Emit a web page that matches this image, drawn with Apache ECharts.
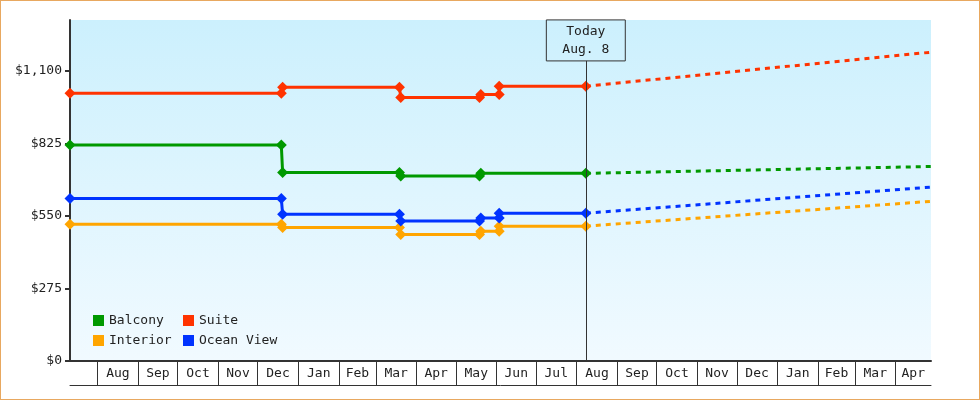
<!DOCTYPE html>
<html>
<head>
    <meta charset="UTF-8" />
    <title>cabin price history</title>
    <script type="text/javascript" src="https://cdn.jsdelivr.net/npm/echarts@6.0.0/dist/echarts.min.js"></script>
    <style>
        body { margin: 0; }
        #wrap { width: 980px; height: 400px; box-sizing: border-box; border: 1px solid #e8a860; background: #fff; }
        #main { width: 978px; height: 398px; }
    </style>
</head>
<body>

<div id="wrap"><div id="main"></div></div>

<script>
    // axis range
    var startDate = '2021-07-11';
    var endDate = '2023-04-28';
    var todayDate = '2022-08-08';

    // price history, one point before and after every change
    var historyDates = ['2021-07-11', '2021-12-19', '2021-12-20', '2022-03-19', '2022-03-20',
        '2022-05-19', '2022-05-20', '2022-06-03', '2022-06-03', '2022-08-08'];
    var suiteHist = [1014, 1014, 1037, 1037, 998, 998, 1010, 1010, 1041, 1041];
    var balconyHist = [818, 818, 714, 714, 701, 701, 711, null, null, 711];
    var oceanHist = [616, 616, 556, 556, 530, 530, 542, 542, 560, 560];
    var interiorHist = [518, 518, 506, 506, 479, 479, 492, 492, 511, 511];

    // forecast from today to end of range
    var forecastDates = ['2022-08-08', '2023-04-28'];
    var suiteFc = [1041, 1170];
    var balconyFc = [711, 737];
    var oceanFc = [560, 659];
    var interiorFc = [511, 605];

    // month bands under the plot
    var monthStarts = ['2021-08-01', '2021-09-01', '2021-10-01', '2021-11-01', '2021-12-01',
        '2022-01-01', '2022-02-01', '2022-03-01', '2022-04-01', '2022-05-01', '2022-06-01',
        '2022-07-01', '2022-08-01', '2022-09-01', '2022-10-01', '2022-11-01', '2022-12-01',
        '2023-01-01', '2023-02-01', '2023-03-01', '2023-04-01'];
    var monthLabels = ['Aug', 'Sep', 'Oct', 'Nov', 'Dec', 'Jan', 'Feb', 'Mar', 'Apr', 'May', 'Jun',
        'Jul', 'Aug', 'Sep', 'Oct', 'Nov', 'Dec', 'Jan', 'Feb', 'Mar', 'Apr'];

    var yTicks = [0, 275, 550, 825, 1100];
    var yMax = 1292;
    var todayBoxBottom = 1137;

    var font = 'DejaVu Sans Mono';

    function day(s) {
        var p = s.split('-');
        return new Date(+p[0], +p[1] - 1, +p[2]).getTime();
    }

    function pairs(dates, values) {
        return dates.map(function (d, i) {
            return [day(d), values[i]];
        });
    }

    var tickValues = monthStarts.map(day);
    var labelValues = tickValues.map(function (t, i) {
        var next = i + 1 < tickValues.length ? tickValues[i + 1] : day(endDate);
        return (t + next) / 2;
    });

    function money(v) {
        return '$' + String(v).replace(/\B(?=(\d{3})+(?!\d))/g, ',');
    }

    function histSeries(name, color, values) {
        return {
            name: name,
            type: 'line',
            data: pairs(historyDates, values),
            connectNulls: true,
            symbol: 'diamond',
            symbolSize: 11,
            showAllSymbol: true,
            itemStyle: { color: color },
            lineStyle: { color: color, width: 3 },
            z: 3
        };
    }

    function fcSeries(name, color, values) {
        return {
            name: name,
            type: 'line',
            data: pairs(forecastDates, values),
            symbol: 'none',
            itemStyle: { color: color },
            lineStyle: { color: color, width: 3, type: [5, 5] },
            z: 3
        };
    }

    var mychart = echarts.init(document.getElementById('main'));

    var option = {
        animation: false,
        grid: {
            left: 69,
            right: 48,
            top: 19,
            bottom: 38,
            show: true,
            borderWidth: 0,
            backgroundColor: new echarts.graphic.LinearGradient(0, 0, 0, 1, [
                { offset: 0, color: '#ccf0fd' },
                { offset: 1, color: '#f1faff' }
            ])
        },
        legend: [{
            orient: 'vertical',
            left: 87,
            top: 308,
            itemWidth: 11,
            itemHeight: 11,
            itemGap: 7,
            icon: 'rect',
            data: ['Balcony', 'Interior'],
            textStyle: { color: '#222', fontFamily: font, fontSize: 13 }
        }, {
            orient: 'vertical',
            left: 177,
            top: 308,
            itemWidth: 11,
            itemHeight: 11,
            itemGap: 7,
            icon: 'rect',
            data: ['Suite', 'Ocean View'],
            textStyle: { color: '#222', fontFamily: font, fontSize: 13 }
        }],
        xAxis: [{
            type: 'value',
            min: day(startDate),
            max: day(endDate),
            axisLine: { lineStyle: { color: '#333', width: 2 } },
            axisTick: {
                customValues: tickValues,
                length: 24,
                lineStyle: { color: '#333', width: 1 }
            },
            axisLabel: {
                customValues: labelValues,
                margin: 6,
                color: '#222',
                fontFamily: font,
                fontSize: 13,
                formatter: function (v) {
                    var i = labelValues.indexOf(v);
                    return i < 0 ? '' : monthLabels[i];
                }
            },
            splitLine: { show: false }
        }, {
            type: 'value',
            position: 'bottom',
            offset: 24,
            min: day(startDate),
            max: day(endDate),
            axisLine: { lineStyle: { color: '#333', width: 1 } },
            axisTick: { show: false },
            axisLabel: { show: false },
            splitLine: { show: false }
        }],
        yAxis: {
            type: 'value',
            min: 0,
            max: yMax,
            axisLine: { show: true, lineStyle: { color: '#333', width: 2 } },
            axisTick: {
                show: true,
                customValues: yTicks,
                length: 5,
                lineStyle: { color: '#333', width: 2 }
            },
            axisLabel: {
                customValues: yTicks,
                margin: 8,
                color: '#222',
                fontFamily: font,
                fontSize: 13,
                formatter: money
            },
            splitLine: { show: false }
        },
        series: [
            histSeries('Balcony', '#009900', balconyHist),
            histSeries('Suite', '#ff3300', suiteHist),
            histSeries('Interior', '#ffa500', interiorHist),
            histSeries('Ocean View', '#0033ff', oceanHist),
            fcSeries('Balcony', '#009900', balconyFc),
            fcSeries('Suite', '#ff3300', suiteFc),
            fcSeries('Interior', '#ffa500', interiorFc),
            fcSeries('Ocean View', '#0033ff', oceanFc),
            {
                name: 'today',
                type: 'line',
                data: [],
                markLine: {
                    silent: true,
                    symbol: 'none',
                    lineStyle: { color: '#333', width: 1, type: 'solid' },
                    label: {
                        show: true,
                        position: 'end',
                        distance: 0,
                        formatter: 'Today\nAug. 8',
                        color: '#222',
                        fontFamily: font,
                        fontSize: 13,
                        lineHeight: 18,
                        align: 'center',
                        borderColor: '#333',
                        borderWidth: 1,
                        padding: [3, 16, 2, 16]
                    },
                    data: [[
                        { coord: [day(todayDate), 0] },
                        { coord: [day(todayDate), todayBoxBottom] }
                    ]]
                },
                z: 2
            }
        ]
    };

    mychart.setOption(option);
</script>

</body>
</html>
